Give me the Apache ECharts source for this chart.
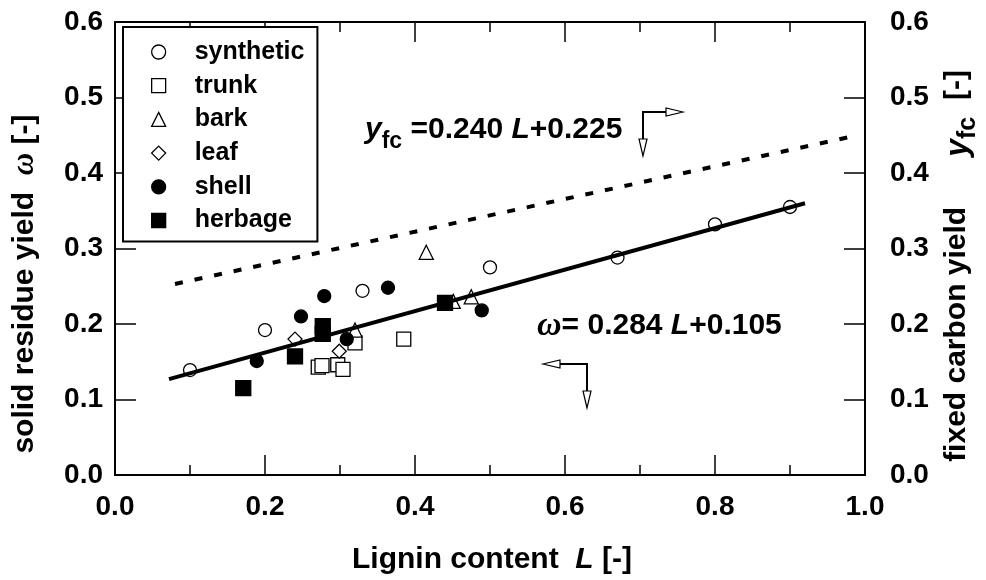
<!DOCTYPE html>
<html><head><meta charset="utf-8">
<script src="https://cdn.jsdelivr.net/npm/echarts@6/dist/echarts.min.js"></script>
<style>html,body{margin:0;padding:0;background:#fff}#c{width:986px;height:580px}</style>
</head><body><div id="c"></div>
<script>
// ---- data ----
const categories = ['synthetic', 'trunk', 'bark', 'leaf', 'shell', 'herbage'];
const synthetic = [[0.10,0.139],[0.20,0.192],[0.33,0.244],[0.50,0.275],[0.67,0.288],[0.80,0.332],[0.90,0.355]];
const trunk = [[0.271,0.143],[0.276,0.145],[0.297,0.146],[0.304,0.140],[0.32,0.175],[0.385,0.180]];
const bark = [[0.32,0.192],[0.415,0.295],[0.451,0.230],[0.475,0.236]];
const leaf = [[0.24,0.180],[0.299,0.164]];
const shell = [[0.189,0.151],[0.248,0.210],[0.279,0.237],[0.309,0.180],[0.364,0.248],[0.489,0.218]];
const herbage = [[0.171,0.115],[0.24,0.157],[0.277,0.197],[0.277,0.187],[0.44,0.228]];
const omegaFit = [[0.072,0.127],[0.92,0.360]];
const yfcFit = [[0.08,0.253],[0.99,0.450]];
const xTickLabels = ['0.0','0.2','0.4','0.6','0.8','1.0'];
const yTickLabels = ['0.0','0.1','0.2','0.3','0.4','0.5','0.6'];

const FONT = 'Liberation Sans, Arial, sans-serif';
const chart = echarts.init(document.getElementById('c'), null, {renderer: 'canvas'});

function xAxisCfg(pos, showLabel) {
  return {
    type: 'value', position: pos, min: 0, max: 1, interval: 0.2,
    axisLine: {show: true, onZero: false, lineStyle: {color: '#000', width: 2}},
    axisTick: {show: true, inside: true, length: 20, lineStyle: {color: '#000', width: 1.5}},
    minorTick: {show: true, splitNumber: 2, length: 10, lineStyle: {color: '#000', width: 1.5}},
    splitLine: {show: false}, minorSplitLine: {show: false},
    axisLabel: {show: showLabel, margin: 18, color: '#000', fontSize: 28, fontWeight: 'bold', fontFamily: FONT,
      formatter: v => xTickLabels[Math.round(v / 0.2)] }
  };
}
function yAxisCfg(pos, margin) {
  return {
    type: 'value', position: pos, min: 0, max: 0.6, interval: 0.1,
    axisLine: {show: true, onZero: false, lineStyle: {color: '#000', width: 2}},
    axisTick: {show: true, inside: true, length: 21, lineStyle: {color: '#000', width: 1.5}},
    minorTick: {show: false},
    splitLine: {show: false},
    axisLabel: {show: true, margin: margin, color: '#000', fontSize: 28, fontWeight: 'bold', fontFamily: FONT,
      formatter: v => yTickLabels[Math.round(v / 0.1)] }
  };
}
function sc(name, data, symbol, size, fill) {
  return {
    name, type: 'scatter', data, symbol, symbolSize: size, z: 2,
    xAxisIndex: 0, yAxisIndex: 0,
    itemStyle: {color: fill, borderColor: '#000', borderWidth: 1.3, opacity: 1},
    emphasis: {disabled: true}
  };
}
const txt = {fontFamily: FONT, fontWeight: 'bold', fill: '#000'};

const option = {
  animation: false,
  backgroundColor: '#fff',
  grid: {left: 115, right: 121, top: 22, bottom: 105, containLabel: false},
  xAxis: [xAxisCfg('bottom', true), xAxisCfg('top', false)],
  yAxis: [yAxisCfg('left', 12), yAxisCfg('right', 25)],
  legend: {
    orient: 'vertical', left: 123, top: 27, selectedMode: false,
    data: categories,
    padding: [12, 13, 8, 28],
    itemWidth: 14, itemHeight: 14, itemGap: 7.7,
    backgroundColor: '#fff', borderColor: '#000', borderWidth: 2,
    itemStyle: {borderColor: '#000', borderWidth: 1.3},
    formatter: '{t|{name}}',
    textStyle: {color: '#000', fontSize: 25, fontWeight: 'bold', fontFamily: FONT, lineHeight: 26,
      rich: {t: {color: '#000', fontSize: 25, fontWeight: 'bold', fontFamily: FONT, lineHeight: 26, padding: [0, 0, 0, 24]}}}
  },
  series: [
    sc('synthetic', synthetic, 'circle', 13, '#fff'),
    sc('trunk', trunk, 'rect', 14, '#fff'),
    sc('bark', bark, 'triangle', 14, '#fff'),
    sc('leaf', leaf, 'diamond', 14, '#fff'),
    sc('shell', shell, 'circle', 13, '#000'),
    sc('herbage', herbage, 'rect', 15, '#000'),
    {name: 'omegaFit', type: 'line', data: omegaFit, xAxisIndex: 0, yAxisIndex: 0, z: 3,
     showSymbol: false, symbol: 'none', lineStyle: {color: '#000', width: 4}, emphasis: {disabled: true}},
    {name: 'yfcFit', type: 'line', data: yfcFit, xAxisIndex: 0, yAxisIndex: 1, z: 3,
     showSymbol: false, symbol: 'none', lineStyle: {color: '#000', width: 4, type: [8, 12]}, emphasis: {disabled: true}}
  ],
  graphic: [
    // axis titles
    {type: 'text', x: 492, y: 560, z: 10, style: Object.assign({}, txt, {
      text: '{b|Lignin content  }{i|L}{b| [-]}', align: 'center', verticalAlign: 'middle',
      rich: {b: {fontSize: 30, fontWeight: 'bold', fontFamily: FONT},
             i: {fontSize: 30, fontWeight: 'bold', fontStyle: 'italic', fontFamily: FONT}}})},
    {type: 'text', x: 25, y: 284, rotation: Math.PI / 2, z: 10, style: Object.assign({}, txt, {
      text: '{b|solid residue yield  }{w|ω}{b| [-]}', align: 'center', verticalAlign: 'middle',
      rich: {b: {fontSize: 30, fontWeight: 'bold', fontFamily: FONT},
             w: {fontSize: 31, fontWeight: 'bold', fontStyle: 'italic', fontFamily: 'Liberation Serif, serif'}}})},
    {type: 'text', x: 958, y: 266, rotation: Math.PI / 2, z: 10, style: Object.assign({}, txt, {
      text: '{b|fixed carbon yield      }{i|y}{s|fc}{b|  [-]}', align: 'center', verticalAlign: 'middle',
      rich: {b: {fontSize: 30, fontWeight: 'bold', fontFamily: FONT, lineHeight: 32, verticalAlign: 'top'},
             i: {fontSize: 32, fontWeight: 'bold', fontStyle: 'italic', fontFamily: FONT, lineHeight: 32, verticalAlign: 'top'},
             s: {fontSize: 25, fontWeight: 'bold', fontFamily: FONT, lineHeight: 25, verticalAlign: 'top', padding: [14, 0, 0, 0]}}})},
    // equations
    {type: 'text', x: 365, y: 131, z: 10, style: Object.assign({}, txt, {
      text: '{i|y}{s|fc}{b| =0.240}{i| L}{b|+0.225}', align: 'left', verticalAlign: 'middle',
      rich: {b: {fontSize: 30, fontWeight: 'bold', fontFamily: FONT, lineHeight: 32, verticalAlign: 'top'},
             i: {fontSize: 30, fontWeight: 'bold', fontStyle: 'italic', fontFamily: FONT, lineHeight: 32, verticalAlign: 'top'},
             s: {fontSize: 23, fontWeight: 'bold', fontFamily: FONT, lineHeight: 23, verticalAlign: 'top', padding: [15, 0, 0, 0]}}})},
    {type: 'text', x: 537, y: 326, z: 10, style: Object.assign({}, txt, {
      text: '{w|ω}{b|= 0.284}{i| L}{b|+0.105}', align: 'left', verticalAlign: 'middle',
      rich: {b: {fontSize: 30, fontWeight: 'bold', fontFamily: FONT},
             i: {fontSize: 30, fontWeight: 'bold', fontStyle: 'italic', fontFamily: FONT},
             w: {fontSize: 34, fontWeight: 'bold', fontStyle: 'italic', fontFamily: 'Liberation Serif, serif'}}})},
    // arrows
    {type: 'polyline', z: 10, shape: {points: [[643, 150], [643, 112], [678, 112]]}, style: {stroke: '#000', lineWidth: 2, fill: null}},
    {type: 'polygon', z: 11, shape: {points: [[643, 156], [639, 139], [647, 139]]}, style: {stroke: '#000', lineWidth: 1.2, fill: '#fff'}},
    {type: 'polygon', z: 11, shape: {points: [[683, 112], [666, 108], [666, 116]]}, style: {stroke: '#000', lineWidth: 1.2, fill: '#fff'}},
    {type: 'polyline', z: 10, shape: {points: [[549, 364], [587, 364], [587, 402]]}, style: {stroke: '#000', lineWidth: 2, fill: null}},
    {type: 'polygon', z: 11, shape: {points: [[543, 364], [560, 360], [560, 368]]}, style: {stroke: '#000', lineWidth: 1.2, fill: '#fff'}},
    {type: 'polygon', z: 11, shape: {points: [[587, 408], [583, 391], [591, 391]]}, style: {stroke: '#000', lineWidth: 1.2, fill: '#fff'}}
  ]
};
chart.setOption(option);
</script>
</body></html>
